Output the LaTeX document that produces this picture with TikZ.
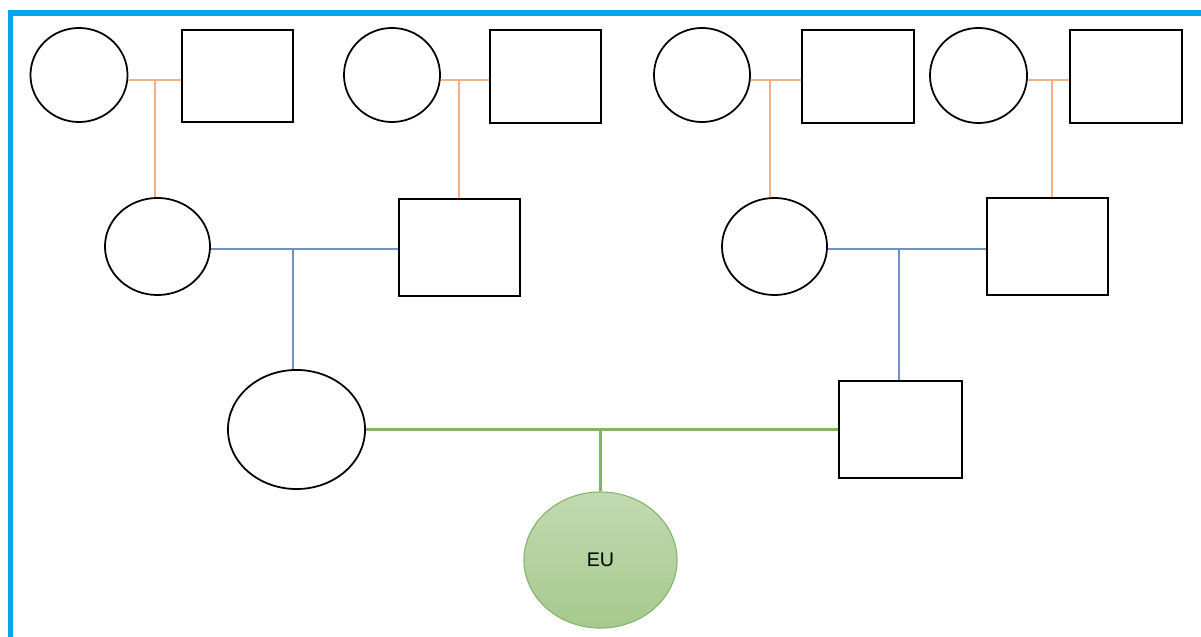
\documentclass[tikz,border=0pt]{standalone}
\usepackage{fontspec}
\setmainfont{Liberation Sans}
\usetikzlibrary{positioning, calc, shapes.geometric}
\definecolor{frameblue}{HTML}{00A8E8}
\definecolor{linkorange}{HTML}{F4B183}
\definecolor{linkblue}{HTML}{7090C8}
\definecolor{linkgreen}{HTML}{82B366}
\definecolor{egotop}{HTML}{C2D9B2}
\definecolor{egobot}{HTML}{A6CA8D}
\begin{document}
\begin{tikzpicture}[
  x=0.01cm, y=-0.01cm, font=\fontsize{5.6}{6}\selectfont,
  female/.style = {ellipse, draw=black, line width=0.5pt, inner sep=0pt},
  male/.style = {rectangle, draw=black, line width=0.5pt, inner sep=0pt},
  ego/.style = {ellipse, draw=linkgreen, line width=0.3pt, top color=egotop, bottom color=egobot, inner sep=0pt},
  gp link/.style = {draw=linkorange, line width=0.45pt},
  p link/.style = {draw=linkblue, line width=0.35pt},
  e link/.style = {draw=linkgreen, line width=0.6pt}
  ]
  \useasboundingbox (0,0) rectangle (1201,637);
  \draw[frameblue, line width=1.7pt] (10.5,637) -- (10.5,13) -- (1201,13);
  % grandparents
  \node[female, minimum width=0.97cm, minimum height=0.94cm] (gm1) at (79,75) {};
  \node[male, minimum width=1.11cm, minimum height=0.92cm] (gf1) at (237.5,76) {};
  \node[female, minimum width=0.96cm, minimum height=0.94cm] (gm2) at (392,75) {};
  \node[male, minimum width=1.11cm, minimum height=0.93cm] (gf2) at (545.5,76.5) {};
  \node[female, minimum width=0.96cm, minimum height=0.94cm] (gm3) at (702,75) {};
  \node[male, minimum width=1.12cm, minimum height=0.93cm] (gf3) at (858,76.5) {};
  \node[female, minimum width=0.97cm, minimum height=0.95cm] (gm4) at (978.5,75.5) {};
  \node[male, minimum width=1.12cm, minimum height=0.93cm] (gf4) at (1126,76.5) {};
  % parents
  \node[female, minimum width=1.05cm, minimum height=0.97cm] (mother1) at (157.5,246.5) {};
  \node[male, minimum width=1.21cm, minimum height=0.97cm] (father1) at (459.5,247.5) {};
  \node[female, minimum width=1.05cm, minimum height=0.97cm] (mother2) at (774.5,246.5) {};
  \node[male, minimum width=1.21cm, minimum height=0.97cm] (father2) at (1047.5,246.5) {};
  % couple
  \node[female, minimum width=1.37cm, minimum height=1.19cm] (mother) at (296.5,429.5) {};
  \node[male, minimum width=1.23cm, minimum height=0.97cm] (father) at (900.5,429.5) {};
  \node[ego, minimum width=1.53cm, minimum height=1.36cm] (eu) at (600.5,560) {EU};
  % links
  \foreach \gm/\gf/\child/\dx in {gm1/gf1/mother1/155, gm2/gf2/father1/459, gm3/gf3/mother2/770, gm4/gf4/father2/1052}
    \draw[gp link] (\gm.east |- 0,80) -- (\gf.west |- 0,80)
      (\dx,80) -- (\dx,0 |- \child.north);
  \draw[p link] (mother1.east |- 0,249) -- (father1.west |- 0,249)
    (293,249) -- (293,0 |- mother.north);
  \draw[p link] (mother2.east |- 0,249) -- (father2.west |- 0,249)
    (899,249) -- (899,0 |- father.north);
  \draw[e link] (mother.east) -- (father.west)
    (eu.north) -- (eu.north |- mother.east);
\end{tikzpicture}
\end{document}
